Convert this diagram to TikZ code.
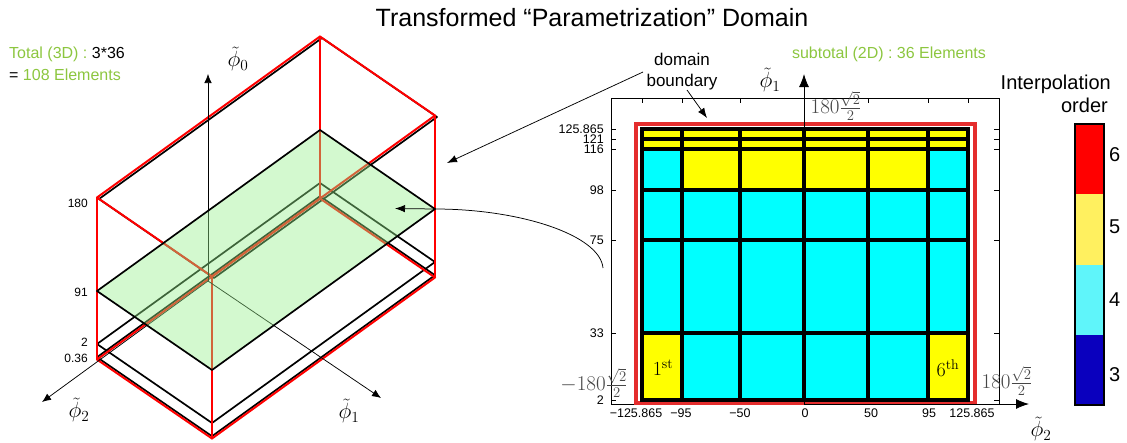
\RequirePackage{fix-cm}
\documentclass[tikz,border=0pt]{standalone}
\usepackage{fontspec}
\setsansfont{Liberation Sans}
\usetikzlibrary{arrows.meta}
\definecolor{lblgreen}{RGB}{140,198,63}
\definecolor{plgreen}{RGB}{150,240,140}
\definecolor{domred}{RGB}{228,45,45}
\definecolor{cbred}{RGB}{255,0,0}
\definecolor{cbyellow}{RGB}{255,240,95}
\definecolor{cbcyan}{RGB}{95,245,250}
\definecolor{cbblue}{RGB}{10,0,190}
\definecolor{elyellow}{RGB}{255,255,0}
\definecolor{elcyan}{RGB}{0,255,255}
\definecolor{mathgray}{RGB}{70,70,70}
\begin{document}
\begin{tikzpicture}[x=1pt,y=-1pt,
 boxedge/.style={draw=red,line width=2pt,line join=round,line cap=round},
 planeedge/.style={draw=black,line width=1.7pt,line join=round},
 axisline/.style={draw=black,line width=0.75pt,-{Latex[length=9pt,width=7.5pt]}},
 bigaxis/.style={draw=black,line width=0.9pt,-{Latex[length=13pt,width=10pt]}},
 callout/.style={draw=black,line width=0.75pt,-{Latex[length=10pt,width=7.5pt]}},
 frameline/.style={draw=black,line width=0.8pt},
 gridline/.style={draw=black,line width=3.4pt},
 ticklab/.style={font=\sffamily\fontsize{12.5}{14}\selectfont,inner sep=0pt},
 zlab/.style={font=\sffamily\fontsize{12}{14}\selectfont,inner sep=0pt,anchor=east},
 greentext/.style={font=\sffamily\fontsize{16}{19}\selectfont,text=lblgreen,inner sep=0pt},
 philab/.style={font=\fontsize{22}{26}\selectfont,inner sep=0pt},
 rootlab/.style={font=\fontsize{21}{25}\selectfont,text=mathgray,inner sep=0pt},
 cblab/.style={font=\sffamily\fontsize{20}{24}\selectfont,inner sep=0pt,anchor=west},
 ordlab/.style={font=\fontsize{20}{22}\selectfont,inner sep=0pt},
]
\useasboundingbox (0,0) rectangle (1127,442);

% ---------- title ----------
\node[font=\sffamily\fontsize{25}{30}\selectfont,inner sep=0pt] (title) at (592,18) {Transformed “Parametrization” Domain};

% ---------- left 3D box ----------
\coordinate (TL) at (97,197.5);
\coordinate (TB) at (320,36.5);
\coordinate (TR) at (435,115.5);
\coordinate (TF) at (212,276.5);
\coordinate (BL) at (97,359.5);
\coordinate (BB) at (320,198.5);
\coordinate (BR) at (435,277.5);
\coordinate (BF) at (212,438.5);

% black element planes
\draw[planeedge] (99,199) -- ++(223,-161) -- ++(115,79) -- ++(-223,161) -- cycle;
\draw[planeedge] (97,344) -- ++(223,-161) -- ++(115,79) -- ++(-223,161) -- cycle;
\draw[planeedge] (97,357.2) -- ++(223,-161) -- ++(115,79) -- ++(-223,161) -- cycle;

% red domain box
\draw[boxedge] (TL) -- (TB) -- (TR) -- (TF) -- cycle;
\draw[boxedge] (BL) -- (BB) -- (BR) -- (BF) -- cycle;
\draw[boxedge] (TL) -- (BL) (TB) -- (BB) (TR) -- (BR) (TF) -- (BF);

% axes
\coordinate (O) at (208,281);
\coordinate (Z0) at (208,74);
\coordinate (X1) at (381,398);
\coordinate (X2) at (42,402);
\draw[axisline] (O) -- (Z0);
\draw[axisline] (O) -- (X1);
\draw[axisline] (O) -- (X2);

% green plane
\coordinate (GL) at (97,291);
\coordinate (GB) at (320,130);
\coordinate (GR) at (435,209);
\coordinate (GF) at (212,370);
\fill[plgreen,fill opacity=0.42] (GL) -- (GB) -- (GR) -- (GF) -- cycle;
\draw[planeedge] (GL) -- (GB) -- (GR) -- (GF) -- cycle;

% labels
\node[philab] (p0) at (238,59) {$\tilde{\phi}_0$};
\node[philab] (p2) at (79,410) {$\tilde{\phi}_2$};
\node[philab] (p1) at (349,411) {$\tilde{\phi}_1$};
\node[zlab] (z180) at (88,203) {180};
\node[zlab] (z91) at (88,292) {91};
\node[zlab] (z2) at (88,342) {2};
\node[zlab] (z036) at (88,358) {0.36};

\node[greentext,anchor=west] (tot1) at (9,54) {Total (3D) : \textcolor{black}{3*36}};
\node[greentext,anchor=west] (tot2) at (9,75) {\textcolor{black}{=} 108 Elements};

% ---------- right 2D plot ----------
\draw[frameline] (611,98) rectangle (999,404);
\foreach \y in {129,139,149,190,240,333,400} {
  \draw[frameline] (611,\y) -- ++(5,0);
  \draw[frameline] (999,\y) -- ++(-5,0);
}
\foreach \x in {642,682,740,804,868,928,968} {
  \draw[frameline] (\x,98) -- ++(0,5);
}
\foreach \v/\y in {125.865/129,121/139,116/149,98/190,75/240,33/333,2/400} {
  \node[ticklab,anchor=east] at (604,\y) {\v};
}
\foreach \v/\x in {−125.865/636,−95/681,−50/740,0/805,50/871,95/929,125.865/972} {
  \node[ticklab] at (\x,413) {\v};
}

% domain boundary (red)
\draw[domred,line width=3.5pt] (636,124) rectangle (975,403);

% elements
\fill[elcyan] (642,129) rectangle (968,400);
\fill[elyellow] (642,129) rectangle (968,149);
\fill[elyellow] (682,149) rectangle (928,190);
\fill[elyellow] (642,333) rectangle (682,400);
\fill[elyellow] (928,333) rectangle (968,400);
\foreach \x in {682,740,804,868,928} {
  \draw[gridline] (\x,129) -- (\x,400);
}
\foreach \y in {139,149,190,240,333} {
  \draw[gridline] (642,\y) -- (968,\y);
}
\draw[gridline,line join=miter] (642,129) rectangle (968,400);

\node[ordlab] (first) at (663,368) {1\textsuperscript{st}};
\node[ordlab] (sixth) at (948,368) {6\textsuperscript{th}};

% axes of 2D plot
\coordinate (O2) at (804,404);
\coordinate (Y2) at (804,74);
\coordinate (XR) at (1029,404);
\draw[bigaxis] (O2) -- (Y2);
\draw[bigaxis] (O2) -- (XR);
\node[philab] (q1) at (770,80) {$\tilde{\phi}_1$};
\node[philab] (q2) at (1041,429) {$\tilde{\phi}_2$};

\node[rootlab] (rtop) at (836,106) {$180\frac{\sqrt{2}}{2}$};
\node[rootlab] (rleft) at (594,383) {$-180\frac{\sqrt{2}}{2}$};
\node[rootlab] (rright) at (1007,381) {$180\frac{\sqrt{2}}{2}$};

\node[greentext] (sub) at (889,54) {subtotal (2D) : 36 Elements};
\node[font=\sffamily\fontsize{17}{21}\selectfont,align=center,inner sep=0pt] (dom) at (682,72) {domain\\boundary};

% callouts
\coordinate (dbA) at (643,72);
\coordinate (dbB) at (447,163);
\draw[callout] (dbA) -- (dbB);
\coordinate (dcA) at (687,90);
\coordinate (dcB) at (707,118);
\draw[callout] (dcA) -- (dcB);
\coordinate (cvA) at (603,268);
\coordinate (cvB) at (395,208.5);
\draw[callout] (cvA) .. controls (600,235) and (520,209) .. (GR) -- (cvB);

% ---------- colorbar ----------
\fill[cbred] (1075,124) rectangle (1104,194);
\fill[cbyellow] (1075,194) rectangle (1104,265);
\fill[cbcyan] (1075,265) rectangle (1104,335);
\fill[cbblue] (1075,335) rectangle (1104,405);
\draw[black,line width=1.3pt] (1075,124) rectangle (1104,405);
\node[cblab] (c6) at (1109,155) {6};
\node[cblab] (c5) at (1109,227) {5};
\node[cblab] (c4) at (1109,300) {4};
\node[cblab] (c3) at (1109,375) {3};
\node[font=\sffamily\fontsize{20}{23}\selectfont,inner sep=0pt,anchor=base east] (ip1) at (1111,89) {Interpolation};
\node[font=\sffamily\fontsize{20}{23}\selectfont,inner sep=0pt,anchor=base east] (ip2) at (1108,112) {order};
\end{tikzpicture}
\end{document}
